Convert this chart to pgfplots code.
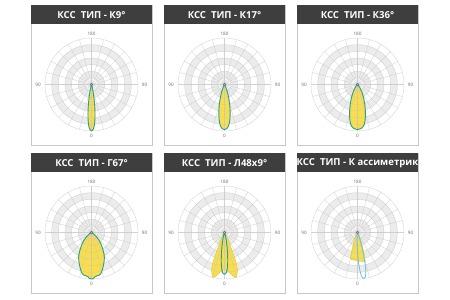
\documentclass[border=0pt]{standalone}
\usepackage{fontspec}
\setmainfont{Open Sans}
\setsansfont{Open Sans}
\usepackage{pgfplots}
\pgfplotsset{compat=1.18}

\definecolor{barcol}{RGB}{62,62,62}
\definecolor{framecol}{RGB}{200,200,200}
\definecolor{gridcol}{RGB}{196,196,196}
\definecolor{bandcol}{RGB}{236,236,236}
\definecolor{beamfill}{RGB}{249,222,76}
\definecolor{beamedge}{RGB}{226,198,50}
\definecolor{beamline}{RGB}{42,158,138}
\definecolor{beamblue}{RGB}{110,192,230}
\definecolor{labelcol}{RGB}{105,105,105}

\pgfplotsset{
  ksc/.style={
    width=93pt, height=93pt, scale only axis,
    xmin=-1, xmax=1, ymin=-1, ymax=1,
    hide axis, clip=false, anchor=center,
  },
  beamfill/.style={data cs=polar, fill=beamfill, draw=none, smooth, tension=0.55},
  beamline/.style={data cs=polar, draw=beamline, line width=0.9pt, line join=round, smooth, tension=0.55},
}
\tikzset{
  gridline/.style={gridcol, line width=0.35pt, draw opacity=0.75},
  lbl/.style={text=labelcol, font=\fontsize{4.6}{5}\selectfont, inner sep=0pt},
}

% alternating shaded rings of the polar grid
\newcommand{\kscbands}{%
  \fill[bandcol, even odd rule] (axis cs:0,0) circle[radius=0.8571] circle[radius=0.7143];
  \fill[bandcol, even odd rule] (axis cs:0,0) circle[radius=0.5714] circle[radius=0.4286];
  \fill[bandcol, even odd rule] (axis cs:0,0) circle[radius=0.2857] circle[radius=0.1429];
}
% rings and spokes, every 15 degrees
\newcommand{\kscgrid}{%
  \pgfplotsinvokeforeach{0.1429,0.2857,0.4286,0.5714,0.7143,0.8571,1}{%
    \draw[gridline] (axis cs:0,0) circle[radius=##1];}
  \pgfplotsinvokeforeach{0,15,...,165}{%
    \draw[gridline] (axis cs:{cos(##1)},{sin(##1)}) -- (axis cs:{-cos(##1)},{-sin(##1)});}
}

% #1 left, #2 top, #3 title, #4 filled areas, #5 outlines
\newcommand{\kscpanel}[5]{%
  \draw[framecol, line width=0.8pt, fill=white] (#1,-#2) rectangle ++(121,-140);
  \fill[barcol] (#1,-#2) rectangle ++(121,-19);
  \node[text=white, font=\fontsize{9.6}{11}\selectfont\bfseries, inner sep=0pt] at (#1+60.5,-#2-9.8) {#3};
  \begin{axis}[ksc, at={({#1pt+60.5pt},{-#2pt-79.5pt})}]
    \kscbands
    #4
    \kscgrid
    #5
    \addplot[only marks, mark=*, mark size=1.3pt,
      mark options={fill=gray!60, draw=gray!80!black, line width=0.3pt}] coordinates {(0,0)};
    \node[lbl] at (axis cs:0,1.08) {180};
    \node[lbl] at (axis cs:0,-1.11) {0};
    \node[lbl] at (axis cs:-1.15,0) {90};
    \node[lbl] at (axis cs:1.14,0) {90};
  \end{axis}
}

\begin{document}
\begin{tikzpicture}[x=1pt, y=1pt]
\useasboundingbox[fill=white] (0,0) rectangle (450,-300);

% ---------- K9 ----------
\kscpanel{31}{5}{КСС\ \ ТИП - К9°}{%
  \addplot[beamfill] coordinates {(248,0) (253,0.03) (256,0.08) (258,0.18) (260,0.33) (262,0.52) (264,0.72) (266,0.88) (268,0.97) (270,1.0) (272,0.97) (274,0.88) (276,0.72) (278,0.52) (280,0.33) (282,0.18) (284,0.08) (287,0.03) (292,0)};
}{%
  \addplot[beamline] coordinates {(248,0) (253,0.03) (256,0.08) (258,0.18) (260,0.33) (262,0.52) (264,0.72) (266,0.88) (268,0.97) (270,1.0) (272,0.97) (274,0.88) (276,0.72) (278,0.52) (280,0.33) (282,0.18) (284,0.08) (287,0.03) (292,0)};
}

% ---------- K17 ----------
\kscpanel{164}{5}{КСС\ \ ТИП - К17°}{%
  \addplot[beamfill] coordinates {(234,0) (240,0.02) (245,0.07) (249,0.17) (252,0.28) (255,0.42) (258,0.58) (261,0.75) (264,0.88) (267,0.95) (270,0.97) (273,0.95) (276,0.88) (279,0.75) (282,0.58) (285,0.42) (288,0.28) (291,0.17) (295,0.07) (300,0.02) (306,0)};
}{%
  \addplot[beamline] coordinates {(234,0) (240,0.02) (245,0.07) (249,0.17) (252,0.28) (255,0.42) (258,0.58) (261,0.75) (264,0.88) (267,0.95) (270,0.97) (273,0.95) (276,0.88) (279,0.75) (282,0.58) (285,0.42) (288,0.28) (291,0.17) (295,0.07) (300,0.02) (306,0)};
}

% ---------- K36 ----------
\kscpanel{297}{5}{КСС\ \ ТИП - К36°}{%
  \addplot[beamfill] coordinates {(215,0) (228,0.04) (235,0.1) (240,0.18) (245,0.3) (250,0.46) (255,0.66) (260,0.86) (265,0.95) (270,0.97) (275,0.95) (280,0.86) (285,0.66) (290,0.46) (295,0.3) (300,0.18) (305,0.1) (312,0.04) (325,0)};
}{%
  \addplot[beamline] coordinates {(215,0) (228,0.04) (235,0.1) (240,0.18) (245,0.3) (250,0.46) (255,0.66) (260,0.86) (265,0.95) (270,0.97) (275,0.95) (280,0.86) (285,0.66) (290,0.46) (295,0.3) (300,0.18) (305,0.1) (312,0.04) (325,0)};
}

% ---------- G67 ----------
\kscpanel{31}{153}{КСС\ \ ТИП - Г67°}{%
  \addplot[beamfill] coordinates {(205,0) (212,0.04) (218,0.1) (225,0.22) (233,0.37) (240,0.54) (245,0.65) (250,0.75) (254,0.84) (257.5,0.91) (260.5,0.935) (263,0.94) (265.5,0.955) (267.5,0.99) (270,1.0) (272.5,0.99) (274.5,0.955) (277,0.94) (279.5,0.935) (282.5,0.91) (286,0.84) (290,0.75) (295,0.65) (300,0.54) (307,0.37) (315,0.22) (322,0.1) (328,0.04) (335,0)};
}{%
  \addplot[beamline] coordinates {(205,0) (212,0.04) (218,0.1) (225,0.22) (233,0.37) (240,0.54) (245,0.65) (250,0.75) (254,0.84) (257.5,0.91) (260.5,0.935) (263,0.94) (265.5,0.955) (267.5,0.99) (270,1.0) (272.5,0.99) (274.5,0.955) (277,0.94) (279.5,0.935) (282.5,0.91) (286,0.84) (290,0.75) (295,0.65) (300,0.54) (307,0.37) (315,0.22) (322,0.1) (328,0.04) (335,0)};
}

% ---------- L48x9 ----------
\kscpanel{164}{153}{КСС\ \ ТИП - Л48x9°}{%
  \addplot[data cs=polar, fill=beamfill, draw=beamedge, line width=0.4pt, line join=round] coordinates {(200,0) (215,0.02) (230,0.05) (240,0.13) (245,0.25) (247,0.4) (248,0.55) (249,0.72) (251,0.86) (254,0.96) (256,1.0) (258,0.97) (260,0.93) (265,0.84) (270,0.79) (275,0.84) (280,0.93) (282,0.97) (284,1.0) (286,0.96) (289,0.86) (291,0.72) (292,0.55) (293,0.4) (295,0.25) (300,0.13) (310,0.05) (325,0.02) (340,0)};
}{%
  \addplot[beamline] coordinates {(245,0) (250,0.02) (254,0.07) (257,0.16) (260,0.32) (262,0.48) (264,0.66) (266,0.8) (268,0.88) (270,0.9) (272,0.88) (274,0.8) (276,0.66) (278,0.48) (280,0.32) (283,0.16) (286,0.07) (290,0.02) (295,0)};
}

% ---------- K asymmetric ----------
\kscpanel{297}{153}{КСС\ \ ТИП - К ассиметрик}{%
  \addplot[data cs=polar, fill=beamfill, draw=beamedge, line width=0.4pt, line join=round] coordinates {(225,0) (235,0.05) (242,0.1) (248,0.2) (252,0.38) (254,0.57) (258,0.6) (264,0.6) (270,0.61) (276,0.62) (282,0.64) (285,0.64) (287,0.5) (289,0.35) (293,0.18) (300,0.08) (310,0.02) (320,0)};
}{%
  \addplot[data cs=polar, draw=beamblue, line width=0.8pt, line join=round, smooth, tension=0.55] coordinates {(258,0) (263,0.04) (266,0.12) (268,0.25) (270,0.42) (272,0.65) (274,0.85) (276,0.97) (278,1.0) (280,0.97) (282,0.85) (284,0.65) (286,0.42) (288,0.25) (290,0.12) (293,0.04) (298,0)};
}

\end{tikzpicture}
\end{document}
